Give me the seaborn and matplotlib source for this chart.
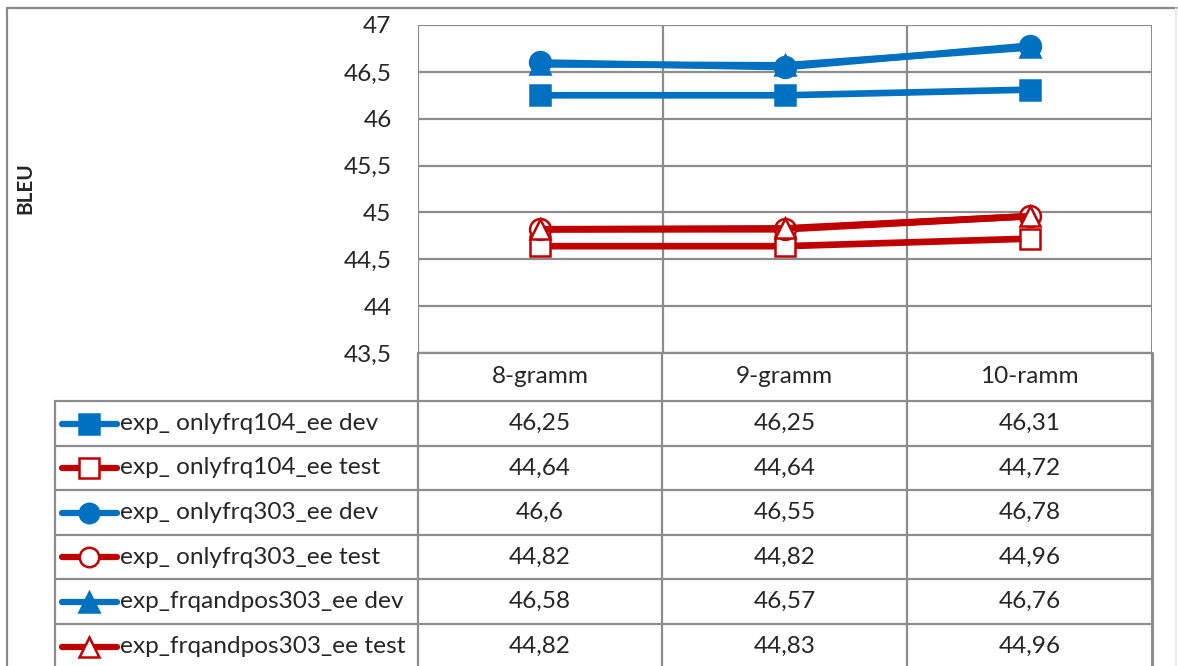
import numpy as np
import pandas as pd
import seaborn as sns
import matplotlib.pyplot as plt
from matplotlib.lines import Line2D

categories = ['8-gramm', '9-gramm', '10-ramm']
series_names = ['exp_ onlyfrq104_ee dev', 'exp_ onlyfrq104_ee test',
                'exp_ onlyfrq303_ee dev', 'exp_ onlyfrq303_ee test',
                'exp_frqandpos303_ee dev', 'exp_frqandpos303_ee test']
onlyfrq104_dev = [46.25, 46.25, 46.31]
onlyfrq104_test = [44.64, 44.64, 44.72]
onlyfrq303_dev = [46.6, 46.55, 46.78]
onlyfrq303_test = [44.82, 44.82, 44.96]
frqandpos303_dev = [46.58, 46.57, 46.76]
frqandpos303_test = [44.82, 44.83, 44.96]
y_ticks = [43.5, 44, 44.5, 45, 45.5, 46, 46.5, 47]

values = [onlyfrq104_dev, onlyfrq104_test, onlyfrq303_dev,
          onlyfrq303_test, frqandpos303_dev, frqandpos303_test]

BLUE = '#0070C0'
RED = '#C00000'
GRID = '#8c8c8c'
colors = [BLUE, RED, BLUE, RED, BLUE, RED]
markers = ['s', 's', 'o', 'o', '^', '^']
filled = [True, False, True, False, True, False]
FS = 17.6

sns.set_theme(style="white")
plt.rcParams['font.family'] = ['Lato', 'DejaVu Sans']

W, H = 1178, 666
fig = plt.figure(figsize=(W / 100, H / 100), dpi=100)


def fx(px):
    return px / W


def fy(py):
    return 1 - py / H


# plot area in pixels
L, R, T, B = 418, 1152, 25, 353
ax = fig.add_axes([fx(L), fy(B), fx(R) - fx(L), fy(T) - fy(B)])

df = pd.DataFrame({
    'series': np.repeat(series_names, len(categories)),
    'pos': np.tile(np.arange(len(categories)), len(series_names)),
    'BLEU': np.concatenate(values),
})

for i, name in enumerate(series_names):
    sub = df[df['series'] == name]
    sns.lineplot(data=sub, x='pos', y='BLEU', ax=ax, color=colors[i], linewidth=4.8,
                 marker=markers[i], markersize=14.5 if markers[i] != 'o' else 15,
                 markerfacecolor=colors[i] if filled[i] else 'white',
                 markeredgecolor=colors[i], markeredgewidth=1.8, zorder=3 + i)

ax.set_xlim(-0.5, 2.5)
ax.set_ylim(43.5, 47)
ax.set_yticks(y_ticks)
ax.set_yticklabels([f'{t:g}'.replace('.', ',') for t in y_ticks], fontsize=FS)
ax.tick_params(axis='y', length=0, pad=19)
ax.set_xticks([])
ax.set_xlabel('')
ax.set_ylabel('')
for yt in y_ticks:
    ax.axhline(yt, color=GRID, linewidth=1.6, zorder=1)
for xb in [0.5, 1.5]:
    ax.axvline(xb, color=GRID, linewidth=1.6, zorder=1)
for s in ax.spines.values():
    s.set_visible(False)
ax.axvline(-0.5, color=GRID, linewidth=1.6, zorder=1)
ax.axvline(2.5, color=GRID, linewidth=2.2, zorder=1)

fig.text(fx(25), fy(188), 'BLEU', rotation=90, ha='center', va='center',
         fontsize=15, fontweight='bold')

# outer frame
fig.add_artist(Line2D([fx(7), fx(1177)], [fy(8), fy(8)], color='#8a8a8a', linewidth=1.6))
fig.add_artist(Line2D([fx(7), fx(7)], [fy(8), fy(670)], color='#8a8a8a', linewidth=1.6))
fig.add_artist(Line2D([fx(1176), fx(1176)], [fy(8), fy(670)], color='#e6e6e6', linewidth=1.2))

# data table
col_edges = [L, 662, 907, R]
row_edges = [401, 446, 490, 535, 579, 624, 669]
tab_left = 55


def hline(y, x0, x1):
    fig.add_artist(Line2D([fx(x0), fx(x1)], [fy(y), fy(y)], color=GRID, linewidth=1.6))


def vline(x, y0, y1, lw=1.6):
    fig.add_artist(Line2D([fx(x), fx(x)], [fy(y0), fy(y1)], color=GRID, linewidth=lw))


hline(B, L, R)
for y in row_edges[:-1]:
    hline(y, tab_left, R)
vline(tab_left, row_edges[0], 670)
for x in col_edges[1:-1]:
    vline(x, B, 670)
vline(L, B, 670)
vline(R, B, 670, lw=2.2)

for j, cat in enumerate(categories):
    cx = (col_edges[j] + col_edges[j + 1]) / 2
    fig.text(fx(cx), fy((B + row_edges[0]) / 2), cat, ha='center', va='center', fontsize=FS)

for i, name in enumerate(series_names):
    cy = (row_edges[i] + row_edges[i + 1]) / 2
    fig.add_artist(Line2D([fx(62), fx(117)], [fy(cy), fy(cy)], color=colors[i], linewidth=4.5,
                          solid_capstyle='round'))
    fig.add_artist(Line2D([fx(89)], [fy(cy)], marker=markers[i], markersize=14,
                          markerfacecolor=colors[i] if filled[i] else 'white',
                          markeredgecolor=colors[i], markeredgewidth=1.8, linestyle='none'))
    fig.text(fx(120), fy(cy), name, ha='left', va='center', fontsize=FS)
    for j in range(len(categories)):
        cx = (col_edges[j] + col_edges[j + 1]) / 2
        v = values[i][j]
        txt = f'{v:g}'.replace('.', ',')
        fig.text(fx(cx), fy(cy), txt, ha='center', va='center', fontsize=FS)

fig.savefig('out.png', dpi=100, facecolor='white')
